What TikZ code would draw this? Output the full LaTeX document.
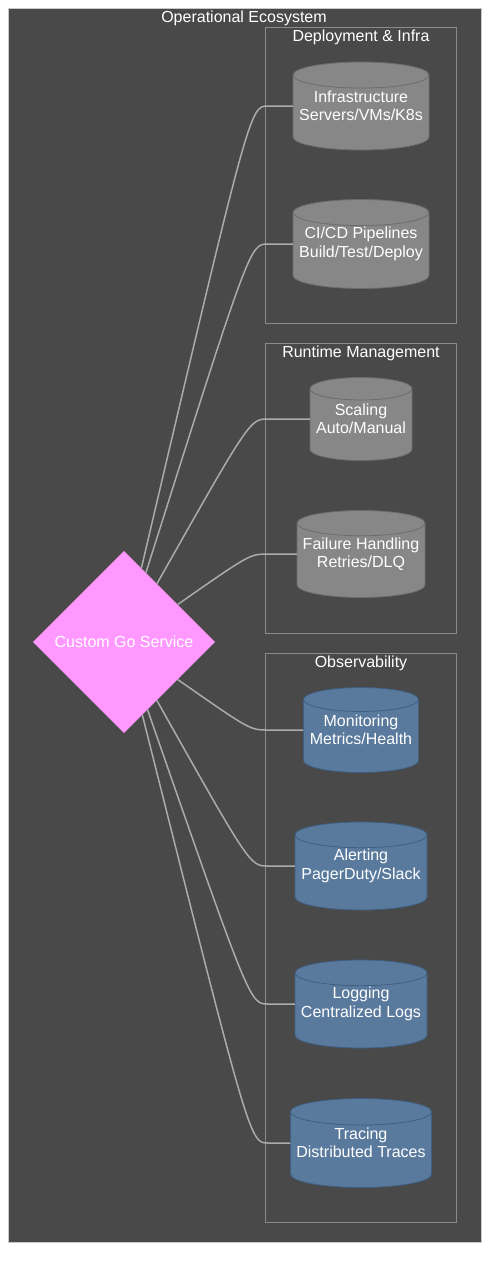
\documentclass[tikz,border=0pt]{standalone}
\usepackage{fontspec}
\setmainfont{Liberation Sans}
\usetikzlibrary{shapes.geometric}
\definecolor{ecobg}{HTML}{484948}
\definecolor{ecoline}{HTML}{C8C8C8}
\definecolor{grpline}{HTML}{8A8A8A}
\definecolor{greyfill}{HTML}{878787}
\definecolor{greyline}{HTML}{6C6C6C}
\definecolor{bluefill}{HTML}{5A7A9D}
\definecolor{blueline}{HTML}{3F5E80}
\definecolor{svcfill}{HTML}{FF99FF}
\definecolor{linkline}{HTML}{ABABAB}

% name, x, y, width, height, fill, line, text
\newcommand{\dbstore}[8]{%
  \pgfmathsetmacro{\cylrx}{#4/2}%
  \pgfmathsetmacro{\cylry}{\cylrx/(2.5+#4/50)}%
  \pgfmathsetmacro{\cyltop}{#3-#5/2+\cylry}%
  \pgfmathsetmacro{\cylbot}{#3+#5/2-\cylry}%
  \filldraw[fill=#6, draw=#7, line width=0.8pt] (#2-\cylrx,\cyltop) -- (#2-\cylrx,\cylbot)
    arc[start angle=180, end angle=360, x radius=\cylrx pt, y radius=\cylry pt]
    -- (#2+\cylrx,\cyltop)
    arc[start angle=0, end angle=180, x radius=\cylrx pt, y radius=\cylry pt] -- cycle;
  \draw[draw=#7, line width=0.8pt] (#2-\cylrx,\cyltop)
    arc[start angle=180, end angle=360, x radius=\cylrx pt, y radius=\cylry pt];
  \node[lbl, minimum width=#4, minimum height=#5] (#1) at (#2,#3) {#8};
}

\begin{document}
\begin{tikzpicture}[x=1pt, y=-1pt,
  lbl/.style={text=white, font=\fontsize{16}{18.5}\selectfont, align=center, inner sep=0pt},
  group/.style={draw=grpline, line width=0.6pt},
  link/.style={draw=linkline, line width=1.5pt}]
\useasboundingbox (0,0) rectangle (497,1270);
\fill[white] (0,0) rectangle (497,1270);

% outer box and groups
\draw[fill=ecobg, draw=ecoline, line width=0.8pt] (8,8) rectangle (481,1242);
\node[lbl, anchor=base] (ecotitle) at (244,22) {Operational Ecosystem};
\draw[group] (265,27) rectangle (456,323);
\node[lbl, anchor=base] (deploytitle) at (361,41) {Deployment \& Infra};
\draw[group] (265,343) rectangle (456,633);
\node[lbl, anchor=base] (runtitle) at (361,357) {Runtime Management};
\draw[group] (265,653) rectangle (456,1222);
\node[lbl, anchor=base] (obstitle) at (361,667) {Observability};

% stores
\dbstore{infra}{361}{106}{136}{88}{greyfill}{greyline}{Infrastructure\\Servers/VMs/K8s}
\dbstore{cicd}{361}{244}{136}{89}{greyfill}{greyline}{CI/CD Pipelines\\Build/Test/Deploy}
\dbstore{scaling}{361}{419}{102}{83}{greyfill}{greyline}{Scaling\\Auto/Manual}
\dbstore{failure}{361}{554}{128}{87}{greyfill}{greyline}{Failure Handling\\Retries/DLQ}
\dbstore{monitor}{361}{730}{115}{85}{bluefill}{blueline}{Monitoring\\Metrics/Health}
\dbstore{alert}{361}{866}{132}{88}{bluefill}{blueline}{Alerting\\PagerDuty/Slack}
\dbstore{logging}{361}{1004}{132}{88}{bluefill}{blueline}{Logging\\Centralized Logs}
\dbstore{tracing}{361}{1143}{141}{89}{bluefill}{blueline}{Tracing\\Distributed Traces}

% service
\node[lbl, diamond, aspect=1, fill=svcfill, draw=svcfill!80!black, line width=0.4pt,
  minimum width=182, minimum height=182] (svc) at (124,642) {Custom Go Service};

% links
\draw[link] (svc) .. controls (250,106) .. (268,106) -- (infra);
\draw[link] (svc) .. controls (250,244) .. (268,244) -- (cicd);
\draw[link] (svc) .. controls (250,419) .. (268,419) -- (scaling);
\draw[link] (svc) .. controls (250,554) .. (268,554) -- (failure);
\draw[link] (svc) .. controls (250,730) .. (268,730) -- (monitor);
\draw[link] (svc) .. controls (250,866) .. (268,866) -- (alert);
\draw[link] (svc) .. controls (250,1004) .. (268,1004) -- (logging);
\draw[link] (svc) .. controls (250,1143) .. (268,1143) -- (tracing);
\end{tikzpicture}
\end{document}
